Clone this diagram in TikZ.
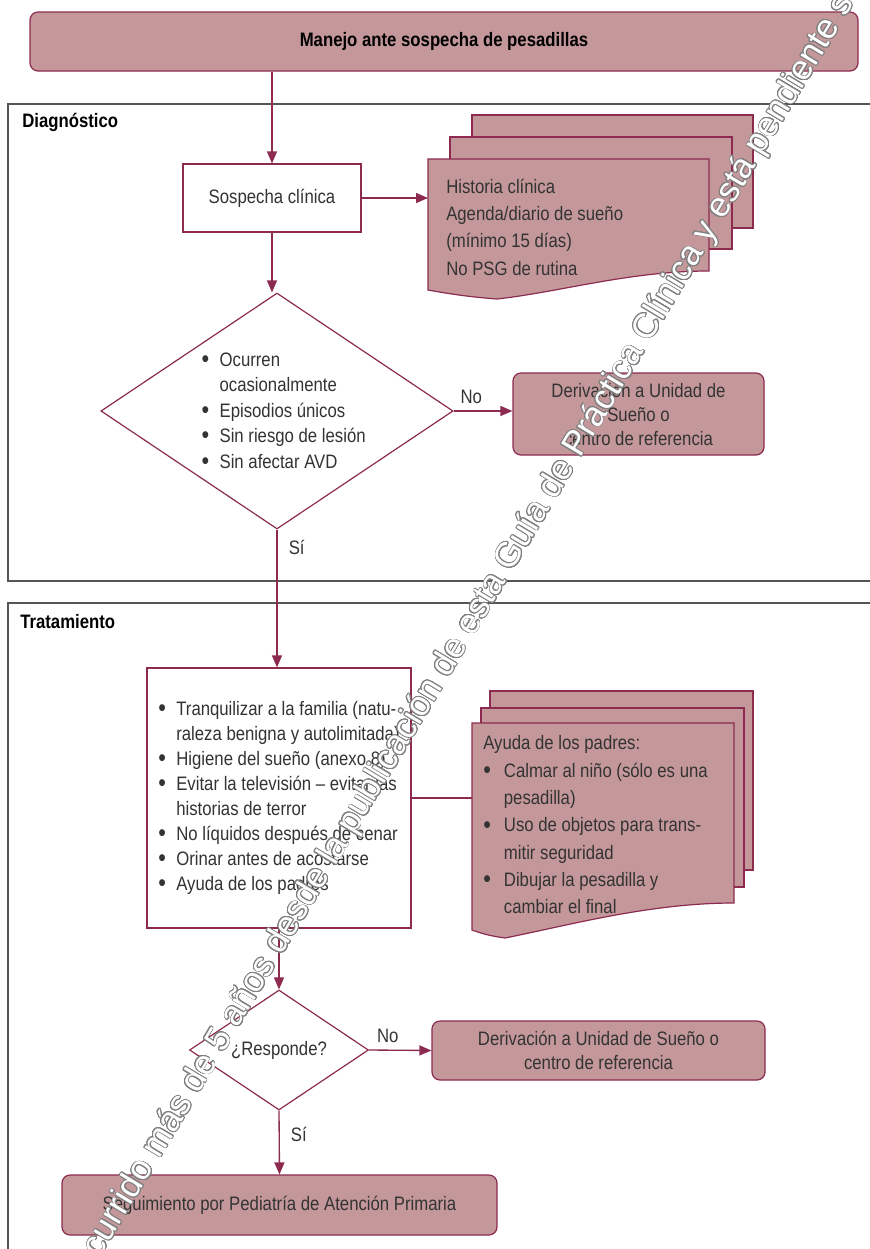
\documentclass[tikz,border=0pt]{standalone}
\usepackage{fontspec}
\setmainfont{Liberation Sans}[FakeStretch=0.86]
\newfontfamily\wmfont{Liberation Sans}
\usepackage{contour}
\usetikzlibrary{arrows.meta,shapes.geometric}

\definecolor{guinda}{HTML}{8C2B4F}
\definecolor{rosa}{HTML}{C4989A}
\definecolor{texto}{HTML}{333333}
\definecolor{marco}{HTML}{555555}
\newcommand{\bul}[1][13.5pt]{\makebox[#1][l]{\raisebox{-0.8pt}{\fontsize{19}{19}\selectfont\textbullet}}}
\contourlength{0.6pt}
\contournumber{24}

\tikzset{
    caja/.style={rectangle, rounded corners=6pt, fill=rosa, draw=guinda, line width=0.9pt, align=center, inner sep=0pt},
    blanca/.style={rectangle, fill=white, draw=guinda, line width=0.9pt, inner sep=0pt},
    rombo/.style={diamond, fill=white, draw=guinda, line width=0.9pt, inner sep=0pt, aspect=1.5, align=left},
    hoja/.style={fill=rosa, draw=guinda, line width=0.9pt},
    flecha/.style={-{Triangle[length=9pt,width=7.5pt]}}
}

\begin{document}
\begin{tikzpicture}[x=0.75pt, y=-0.75pt, font=\fontsize{14.6}{20.5}\selectfont, text=texto]
        \useasboundingbox (0,0) rectangle (870,1249);
        \clip (0,0) rectangle (870,1249);

        % secciones
        \begin{scope}[every node/.style={anchor=base west, inner sep=0pt, font=\fontsize{14.6}{20.5}\selectfont\bfseries, text=black}]
            \draw[marco, line width=1.1pt] (8,104) rectangle (880,581);
            \draw[marco, line width=1.1pt] (8,603) rectangle (880,1260);
            \node (lbDiag) at (22,127) {Diagnóstico};
            \node (lbTrat) at (20,628) {Tratamiento};
        \end{scope}

        % hojas
        \path[hoja] (472,115) rectangle (753,228);
        \path[hoja] (450,137) rectangle (732,249);
        \path[hoja] (428,159) -- (709,159) -- (709,271) .. controls (630,271) and (560,292) .. (497,299) .. controls (470,297) and (450,294) .. (428,290) -- cycle;
        \path[hoja] (490,691) rectangle (753,870);
        \path[hoja] (481,708) rectangle (744,887);
        \path[hoja] (472,723) -- (734,723) -- (734,903) .. controls (650,903) and (570,925) .. (505,938) .. controls (490,936) and (480,933) .. (472,930) -- cycle;

        \node (titulo) [caja, minimum width=621pt, minimum height=44.25pt, font=\fontsize{14.6}{20.5}\selectfont\bfseries, text=black] at (444,41.5) {Manejo ante sospecha de pesadillas};
        \node (sospecha) [blanca, minimum width=133.5pt, minimum height=51pt] at (272,198) {Sospecha clínica};
        \node (docA) [anchor=west, inner xsep=13.5pt, inner ysep=0pt, align=left] at (428,227) {Historia clínica\\Agenda/diario de sueño\\(mínimo 15 días)\\No PSG de rutina};
        \node (criterios) [rombo, minimum width=261pt, minimum height=177pt, font=\fontsize{14.6}{19.1}\selectfont] at (277,411) {\hspace*{10pt}\bul Ocurren\\\hspace*{23.5pt}ocasionalmente\\\hspace*{10pt}\bul Episodios únicos\\\hspace*{10pt}\bul Sin riesgo de lesión\\\hspace*{10pt}\bul Sin afectar AVD};
        \node (deriv1) [caja, minimum width=188.25pt, minimum height=61.5pt, font=\fontsize{14.6}{18}\selectfont] at (638.5,414) {Derivación a Unidad de\\Sueño o\\centro de referencia};

        \node (medidas) [blanca, minimum width=198pt, minimum height=195pt, align=left, font=\fontsize{14.6}{18.8}\selectfont] at (279,798) {\bul Tranquilizar a la familia (natu-\\\hspace*{13.5pt}raleza benigna y autolimitada)\\\bul Higiene del sueño (anexo 8)\\\bul Evitar la televisión -- evitar las\\\hspace*{13.5pt}historias de terror\\\bul No líquidos después de cenar\\\bul Orinar antes de acostarse\\\bul Ayuda de los padres};
        \node (docB) [anchor=west, inner xsep=8.25pt, inner ysep=0pt, align=left] at (472,825) {Ayuda de los padres:\\\bul[15.5pt]Calmar al niño (sólo es una\\\hspace*{15.5pt}pesadilla)\\\bul[15.5pt]Uso de objetos para trans-\\\hspace*{15.5pt}mitir seguridad\\\bul[15.5pt]Dibujar la pesadilla y\\\hspace*{15.5pt}cambiar el final};

        \node (responde) [rombo, minimum width=134.25pt, minimum height=90pt] at (279,1050) {¿Responde?};
        \node (deriv2) [caja, minimum width=249.75pt, minimum height=44.25pt, font=\fontsize{14.6}{18}\selectfont] at (598.5,1050.5) {Derivación a Unidad de Sueño o\\centro de referencia};
        \node (seguimiento) [caja, minimum width=326.25pt, minimum height=45pt] at (279.5,1205) {Seguimiento por Pediatría de Atención Primaria};

        \begin{scope}[every edge/.style={draw=guinda, line width=1pt}]
            \path [flecha] (sospecha.north |- titulo.south) edge (sospecha.north);
            \path [flecha] (sospecha.east) edge (sospecha.east -| docA.west);
            \path [flecha] (sospecha.south) edge (sospecha.south |- criterios.north);
            \path [flecha] (criterios.east) edge node[pos=0.3, above=2pt] {No} (criterios.east -| deriv1.west);
            \path [flecha] (criterios.south) edge node[pos=0.13, right=5pt] {Sí} (criterios.south |- medidas.north);
            \path (medidas.east) edge (medidas.east -| docB.west);
            \path [flecha] (medidas.south) edge (responde.north);
            \path [flecha] (responde.east) edge node[pos=0.3, above=2pt] {No} (deriv2.west);
            \path [flecha] (responde.south) edge node[pos=0.38, right=5pt] {Sí} (seguimiento.north);
        \end{scope}

        % marca de agua
        \node (marca) [rotate=59, font=\wmfont\fontsize{26}{26}\selectfont] at (490,592) {\contour{gray}{\textcolor{white}{Han transcurrido más de 5 años desde la publicación de esta Guía de Práctica Clínica y está pendiente su actualización}}};
\end{tikzpicture}
\end{document}
